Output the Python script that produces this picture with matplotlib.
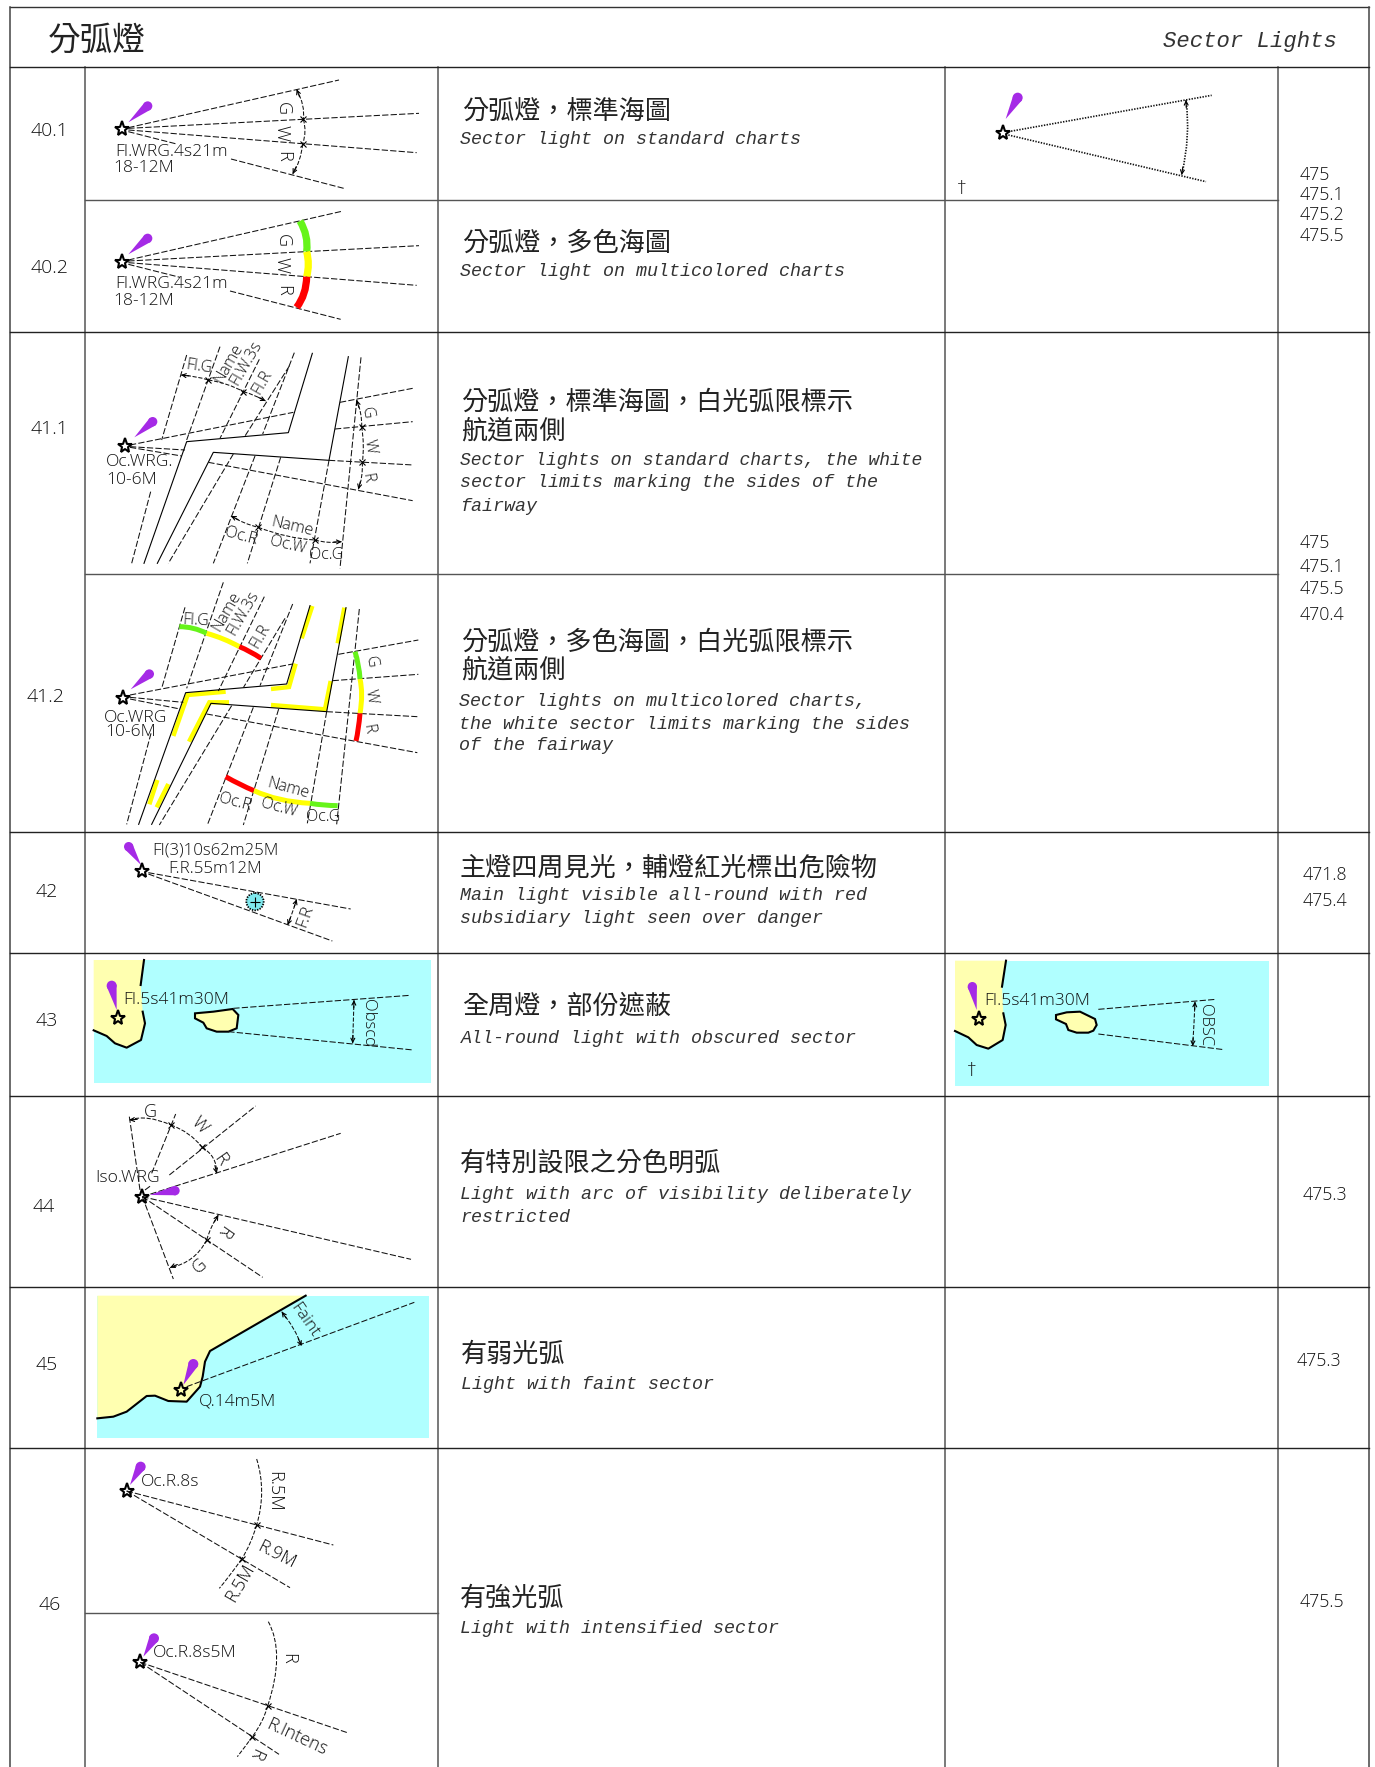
import numpy as np
import matplotlib
matplotlib.use('Agg')
import matplotlib.pyplot as plt
from matplotlib.patches import PathPatch, Polygon, Circle, Rectangle
from matplotlib.path import Path

plt.rcParams['lines.scale_dashes'] = False
plt.rcParams['font.family'] = ['Open Sans', 'DejaVu Sans']
plt.rcParams['font.weight'] = 'light'

CJK = ['Noto Sans CJK TC', 'DejaVu Sans']
MONO = 'Liberation Mono'
FLARE = '#a52ae6'
SEA = '#b0ffff'
LAND = '#ffffb0'
GREEN = '#66f41a'
YELLOW = '#ffff00'
RED = '#ff0000'

# table
col_x = [10, 85, 438, 945, 1278, 1369]
full_rows = [67, 332, 832, 953, 1096, 1287, 1448]
partial_rows = [200, 574]

row_numbers = [('40.1', 50, 131), ('40.2', 50, 268), ('41.1', 50, 429), ('41.2', 46, 697),
               ('42', 47, 892), ('43', 47, 1021), ('44', 44, 1207), ('45', 47, 1365), ('46', 50, 1605)]

zh_text = [('分弧燈，標準海圖', 462, 111), ('分弧燈，多色海圖', 462, 243),
           ('分弧燈，標準海圖，白光弧限標示', 461, 402), ('航道兩側', 461, 431),
           ('分弧燈，多色海圖，白光弧限標示', 461, 642), ('航道兩側', 461, 670),
           ('主燈四周見光，輔燈紅光標出危險物', 460, 868), ('全周燈，部份遮蔽', 462, 1006),
           ('有特別設限之分色明弧', 460, 1163), ('有弱光弧', 461, 1354), ('有強光弧', 460, 1598)]

en_text = [('Sector light on standard charts', 460, 139), ('Sector light on multicolored charts', 460, 271),
           ('Sector lights on standard charts, the white', 460, 460),
           ('sector limits marking the sides of the', 460, 482), ('fairway', 460, 506),
           ('Sector lights on multicolored charts,', 459, 701),
           ('the white sector limits marking the sides', 459, 724), ('of the fairway', 459, 745),
           ('Main light visible all-round with red', 460, 895),
           ('subsidiary light seen over danger', 460, 918),
           ('All-round light with obscured sector', 461, 1038),
           ('Light with arc of visibility deliberately', 460, 1194), ('restricted', 460, 1217),
           ('Light with faint sector', 461, 1384), ('Light with intensified sector', 460, 1628)]
en_narrow = ['Sector lights on standard charts, the white']

ref_text = [('475', 1300, 175), ('475.1', 1300, 195), ('475.2', 1300, 215), ('475.5', 1300, 236),
            ('475', 1300, 543), ('475.1', 1300, 567), ('475.5', 1300, 589), ('470.4', 1300, 615),
            ('471.8', 1303, 875), ('475.4', 1303, 901), ('475.3', 1303, 1195), ('475.3', 1297, 1361),
            ('475.5', 1300, 1602)]

# the diagrams, in units of 1/3 px from each origin
o_40 = (0, 0)
rays_401 = [[(385, 383), (1017, 240)], [(385, 385), (1257, 340)], [(385, 390), (1250, 458)],
            [(385, 395), (530, 432)], [(693, 477), (1035, 566)]]
arcs_401 = [[(890, 268), (908, 315), (910, 358)], [(910, 358), (915, 395), (908, 432)],
            [(908, 432), (898, 480), (878, 522)]]
labels_401 = [('G', 850, 325, -90), ('W', 845, 398, -90), ('R', 850, 470, -90)]
left_401 = [('FI.WRG.4s21m', 345, 455), ('18-12M', 340, 505)]

rays_402 = [[(385, 780), (1025, 634)], [(385, 783), (1257, 737)], [(385, 788), (1250, 856)],
            [(385, 793), (540, 832)], [(690, 873), (1022, 958)]]
colour_402 = [[(900, 663), (918, 708), (920, 755), GREEN], [(920, 755), (925, 793), (920, 830), YELLOW],
              [(920, 830), (912, 880), (890, 922), RED]]
labels_402 = [('G', 850, 722, -90), ('W', 845, 795, -90), ('R', 850, 870, -90)]
left_402 = [('FI.WRG.4s21m', 345, 851), ('18-12M', 340, 902)]

o_411 = (80, 330)
solid_411 = [[(192, 700), (320, 335), (625, 308), (697, 70)], [(232, 700), (400, 367), (747, 391), (805, 80)]]
rays_411 = [[(150, 345), (640, 247)], [(780, 217), (998, 175)], [(765, 297), (998, 275)],
            [(150, 350), (315, 360)], [(747, 391), (1000, 405)], [(150, 352), (305, 378)],
            [(385, 397), (998, 512)], [(320, 75), (245, 330)], [(212, 485), (155, 700)],
            [(420, 50), (320, 330)], [(538, 88), (420, 325)], [(643, 68), (548, 312)],
            [(628, 108), (495, 318)], [(460, 372), (265, 700)], [(525, 378), (400, 700)],
            [(602, 382), (502, 700)], [(843, 82), (780, 715)], [(747, 391), (690, 700)]]
arcs_411a = [[(303, 135), (345, 140), (385, 150)], [(385, 150), (440, 163), (490, 185)],
             [(490, 185), (525, 197), (557, 213)]]
arcs_411b = [[(453, 558), (492, 578), (535, 592)], [(535, 592), (620, 618), (705, 630)],
             [(705, 630), (745, 637), (785, 635)]]
arcs_411c = [[(830, 210), (842, 250), (845, 290)], [(845, 290), (850, 345), (847, 397)],
             [(847, 397), (845, 440), (835, 478)]]
labels_411 = [('FI.G', 357, 110, -8), ('Name', 445, 100, 60), ('FI.W.3s', 497, 100, 60), ('FI.R', 548, 155, 60),
              ('G', 862, 250, -80), ('W', 870, 350, -80), ('R', 860, 445, -80), ('Name', 637, 590, -13),
              ('Oc.W', 622, 645, -13), ('Oc.R', 483, 618, -15), ('Oc.G', 740, 675, 0)]
left_411 = [('Oc.WRG.', 78, 397), ('10-6M', 80, 450)]

o_412 = (80, 575)
solid_412 = [[(176, 748), (317, 353), (620, 327), (690, 92)], [(215, 748), (393, 385), (740, 410), (798, 98)]]
yellow_412 = [[(280, 483), (323, 360), (437, 350)], [(573, 342), (627, 336), (647, 266)], [(665, 190), (697, 93)],
              [(327, 500), (388, 382), (447, 382)], [(573, 390), (735, 403), (752, 318)], [(773, 205), (793, 98)],
              [(208, 688), (232, 615)], [(230, 697), (265, 627)]]
rays_412 = [[(150, 360), (638, 267)], [(775, 238), (1015, 195)], [(758, 317), (1015, 298)],
            [(150, 367), (310, 382)], [(740, 410), (1012, 425)], [(150, 372), (300, 402)],
            [(380, 417), (1012, 533)], [(315, 97), (245, 340)], [(213, 475), (140, 748)],
            [(430, 22), (320, 340)], [(553, 65), (415, 348)], [(638, 87), (540, 332)],
            [(615, 130), (490, 338)], [(455, 392), (238, 750)], [(520, 397), (382, 750)],
            [(596, 402), (490, 750)], [(838, 102), (770, 748)], [(740, 410), (682, 745)]]
colour_412 = [[(298, 155), (340, 160), (380, 175), GREEN], [(380, 175), (430, 192), (478, 215), YELLOW],
              [(478, 215), (510, 230), (543, 250), RED], [(825, 230), (835, 270), (840, 312), GREEN],
              [(840, 312), (845, 360), (840, 415), YELLOW], [(840, 415), (835, 460), (828, 498), RED],
              [(437, 605), (480, 628), (522, 647), RED], [(522, 647), (600, 673), (690, 685), YELLOW],
              [(690, 685), (730, 690), (773, 692), GREEN]]
labels_412 = [('FI.G', 348, 137, -3), ('Name', 440, 108, 60), ('FI.W.3s', 490, 115, 60), ('FI.R', 540, 182, 60),
              ('G', 873, 262, -80), ('W', 873, 365, -80), ('R', 865, 462, -80), ('Name', 625, 642, -15),
              ('Oc.W', 595, 700, -15), ('Oc.R', 465, 682, -15), ('Oc.G', 730, 725, 0)]
left_412 = [('Oc.WRG', 72, 428), ('10-6M', 75, 472)]

o_42 = (80, 830)
rays_42 = [[(205, 128), (812, 237)], [(205, 132), (757, 333)]]
arcs_42 = [[(650, 208), (638, 245), (623, 285)]]
labels_42 = [('F.R', 675, 258, 70)]
left_42 = [('FI(3)10s62m25M', 217, 60), ('F.R.55m12M', 265, 118)]

land_43 = [(41, 390), (192, 390), (182, 465), (188, 545), (195, 580), (183, 630), (140, 653), (105, 640), (80, 618), (41, 601)]
island_43 = [(345, 550), (400, 545), (458, 537), (475, 555), (470, 595), (445, 605), (410, 605), (380, 595), (370, 578), (345, 565)]
rays_43 = [[(460, 535), (990, 496)], [(445, 605), (1000, 660)]]
arcs_43 = [[(822, 510), (820, 575), (818, 640)]]

o_43r = (940, 950)
land_43r = [(45, 32), (198, 32), (186, 110), (190, 190), (197, 225), (188, 270), (145, 296), (110, 285), (85, 262), (45, 243)]
island_43r = [(348, 195), (380, 187), (420, 185), (465, 207), (470, 225), (460, 242), (445, 248), (410, 248), (385, 240), (378, 222), (348, 208)]
rays_43r = [[(475, 178), (828, 148)], [(475, 252), (852, 299)]]
arcs_43r = [[(765, 155), (762, 220), (758, 288)]]

o_44 = (80, 1090)
rays_44 = [[(148, 80), (180, 300)], [(215, 250), (287, 72)], [(195, 300), (215, 285)], [(268, 255), (527, 48)],
           [(187, 320), (782, 130)], [(187, 320), (993, 508)], [(187, 320), (548, 562)], [(187, 320), (280, 567)]]
arcs_44a = [[(148, 90), (205, 85), (273, 105)], [(273, 105), (325, 132), (367, 172)], [(367, 172), (400, 205), (410, 250)]]
arcs_44b = [[(415, 375), (395, 410), (380, 450)], [(380, 450), (335, 505), (270, 533)]]
labels_44 = [('G', 212, 65, 0), ('W', 360, 105, -45), ('R', 422, 210, -55), ('R', 430, 423, -125), ('G', 358, 527, 40)]

land_45 = [(52, 617), (677, 617), (390, 783), (375, 815), (368, 860), (360, 890), (320, 935), (265, 933),
           (225, 917), (200, 918), (140, 965), (100, 980), (52, 985)]
rays_45 = [[(320, 890), (1003, 637)]]
arcs_45 = [[(605, 665), (640, 715), (665, 768)]]

o_46 = (80, 1445)
rays_46a = [[(140, 138), (760, 300)], [(140, 138), (630, 428)]]
arcs_46a = [[(530, 42), (545, 140), (530, 240)], [(530, 240), (510, 295), (485, 342)], [(485, 342), (450, 390), (418, 430)]]
labels_46a = [('R.5M', 582, 140, -90), ('R.9M', 590, 328, -27), ('R.5M', 480, 413, 60)]
rays_46b = [[(181, 652), (802, 863)], [(181, 652), (597, 928)]]
arcs_46b = [[(565, 530), (590, 640), (563, 783)], [(563, 783), (545, 830), (517, 875)], [(517, 875), (495, 905), (472, 935)]]
labels_46b = [('R', 625, 640, -90), ('R.Intens', 650, 877, -25), ('R', 525, 928, -115)]

o_tr = (940, 60)
rays_tr = [[(205, 215), (815, 106)], [(205, 225), (798, 365)]]
arcs_tr = [[(738, 120), (742, 230), (725, 345)]]

fig = plt.figure(figsize=(13.75, 17.67), dpi=100)
ax = fig.add_axes([0, 0, 1, 1])
ax.set_xlim(0, 1375)
ax.set_ylim(1767, 0)
ax.axis('off')


def conv(o, p):
    return (o[0] + p[0] / 3, o[1] + p[1] / 3)


def draw_rays(o, rays, ls=(0, (4.5, 1.6)), lw=0.75, color='#111111'):
    for r in rays:
        pts = np.array([conv(o, p) for p in r])
        ax.plot(pts[:, 0], pts[:, 1], color=color, lw=lw, ls=ls, zorder=4)


def draw_solid(o, lines, lw=0.8):
    for r in lines:
        pts = np.array([conv(o, p) for p in r])
        ax.plot(pts[:, 0], pts[:, 1], color='black', lw=lw, zorder=4, solid_joinstyle='miter')


def curve(o, a, m, b, color='#111111', lw=0.75, ls=(0, (3, 1.2)), zorder=4):
    p0, pm, p1 = conv(o, a), conv(o, m), conv(o, b)
    ctrl = (2 * pm[0] - (p0[0] + p1[0]) / 2, 2 * pm[1] - (p0[1] + p1[1]) / 2)
    path = Path([p0, ctrl, p1], [Path.MOVETO, Path.CURVE3, Path.CURVE3])
    ax.add_patch(PathPatch(path, fc='none', ec=color, lw=lw, ls=ls, capstyle='butt', zorder=zorder))


def dim_arcs(o, arcs, ends=True, ticks=True, ls=(0, (3, 1.2)), lw=0.75):
    for a in arcs:
        curve(o, a[0], a[1], a[2], ls=ls, lw=lw)
    if ticks:
        for a in arcs[:-1]:
            x, y = conv(o, a[2])
            ax.plot(x, y, marker='x', ms=4.5, mew=0.8, color='black', zorder=5)
    if ends:
        for tip, tail in ((arcs[0][0], arcs[0][1]), (arcs[-1][2], arcs[-1][1])):
            t, h = np.array(conv(o, tip)), np.array(conv(o, tail))
            back = t + (h - t) / np.linalg.norm(h - t) * 8
            ax.annotate('', xy=t, xytext=back, zorder=5,
                        arrowprops=dict(arrowstyle='->', lw=0.8, color='black', mutation_scale=7, shrinkA=0, shrinkB=0))


def colour_arcs(o, arcs, lw=5.2):
    for a in arcs:
        curve(o, a[0], a[1], a[2], color=a[3], lw=lw, ls='-', zorder=5)


def light(o, star, base, tip, r=14):
    s, b, c = conv(o, star), np.array(conv(o, base)), np.array(conv(o, tip))
    d = (c - b) / np.linalg.norm(c - b)
    n = np.array([-d[1], d[0]]) * r / 3
    ax.add_patch(Polygon([b, c + n, c - n], fc=FLARE, ec='none', zorder=6))
    ax.add_patch(Circle(c, r / 3, fc=FLARE, ec='none', zorder=6))
    ax.plot(s[0], s[1], marker='*', ms=11, mfc='none', mec='black', mew=1.5, zorder=7)


def labels(o, items, size=11.5):
    for t, x, y, rot in items:
        px, py = conv(o, (x, y))
        ax.text(px, py, t, rotation=rot, rotation_mode='anchor', ha='center', va='center', fontsize=size, color='#111111', zorder=8)


def left_labels(o, items, size=12.6):
    for t, x, y in items:
        px, py = conv(o, (x, y))
        ax.text(px, py, t, ha='left', va='center', fontsize=size, color='#111111', zorder=8)


def land(o, pts, coast_gap=None):
    q = [conv(o, p) for p in pts]
    ax.add_patch(Polygon(q, fc=LAND, ec='none', zorder=2))
    q = np.array(q[1:])
    if coast_gap is None:
        ax.plot(q[:, 0], q[:, 1], color='black', lw=1.5, zorder=4)
    else:
        ax.plot(q[:coast_gap, 0], q[:coast_gap, 1], color='black', lw=1.5, zorder=4)
        ax.plot(q[coast_gap:, 0], q[coast_gap:, 1], color='black', lw=1.5, zorder=4)


def island(o, pts):
    ax.add_patch(Polygon([conv(o, p) for p in pts], fc=LAND, ec='black', lw=1.5, zorder=3))


def sea(o, a, b):
    p, q = conv(o, a), conv(o, b)
    ax.add_patch(Rectangle(p, q[0] - p[0], q[1] - p[1], fc=SEA, ec='none', zorder=1))


# table lines
ax.plot([col_x[0], col_x[5]], [7, 7], color='#333333', lw=1.0)
for x in [col_x[0], col_x[5]]:
    ax.plot([x, x], [7, 1767], color='#444444', lw=1.1)
for x in col_x[1:5]:
    ax.plot([x, x], [67, 1767], color='#555555', lw=1.1)
for y in full_rows:
    ax.plot([col_x[0], col_x[5]], [y, y], color='#222222', lw=1.0)
for y in partial_rows:
    ax.plot([col_x[1], col_x[4]], [y, y], color='#555555', lw=1.0)
ax.plot([col_x[1], col_x[2]], [1613, 1613], color='#555555', lw=1.0)

# text columns
ax.text(48, 41, '分弧燈', fontsize=23.5, family=CJK, ha='left', va='center', color='#222222')
ax.text(1337, 41, 'Sector Lights', fontsize=16, family=MONO, style='italic', ha='right', va='center', color='#333333')
for t, x, y in row_numbers:
    ax.text(x, y, t, fontsize=14, ha='center', va='center', color='#111111')
for t, x, y in zh_text:
    ax.text(x, y, t, fontsize=18.8, family=CJK, ha='left', va='center', color='#222222')
for t, x, y in en_text:
    size = 13 if t in en_narrow else 13.25
    ax.text(x, y, t, fontsize=size, family=MONO, style='italic', ha='left', va='center', color='#333333')
for t, x, y in ref_text:
    ax.text(x, y, t, fontsize=12.8, ha='left', va='center', color='#111111')

# 40.1, 40.2
light(o_40, (367, 388), (385, 367), (443, 318))
draw_rays(o_40, rays_401)
dim_arcs(o_40, arcs_401)
labels(o_40, labels_401, size=13)
left_labels(o_40, left_401)

light(o_40, (367, 786), (385, 763), (443, 715))
draw_rays(o_40, rays_402)
colour_arcs(o_40, colour_402)
labels(o_40, labels_402, size=13)
left_labels(o_40, left_402)

# 41.1
light(o_411, (135, 349), (163, 322), (218, 275))
draw_solid(o_411, solid_411)
draw_rays(o_411, rays_411)
dim_arcs(o_411, arcs_411a)
dim_arcs(o_411, arcs_411b)
dim_arcs(o_411, arcs_411c)
labels(o_411, labels_411)
left_labels(o_411, left_411)

# 41.2
light(o_412, (130, 368), (152, 343), (208, 297))
for seg in yellow_412:
    pts = np.array([conv(o_412, p) for p in seg])
    ax.plot(pts[:, 0], pts[:, 1], color=YELLOW, lw=3.2, zorder=3, solid_capstyle='butt', solid_joinstyle='miter')
draw_solid(o_412, solid_412)
draw_rays(o_412, rays_412)
colour_arcs(o_412, colour_412, lw=3.6)
labels(o_412, labels_412)
left_labels(o_412, left_412)

# 42
light(o_42, (186, 124), (183, 105), (146, 50))
draw_rays(o_42, rays_42)
ax.add_patch(Circle(conv(o_42, (525, 215)), 26 / 3, fc='#7fe9ee', ec='black', lw=1.3, ls=(0, (1, 0.9)), zorder=5))
cx, cy = conv(o_42, (525, 215))
ax.plot(cx, cy, marker='+', ms=7, mew=0.8, color='black', zorder=6)
dim_arcs(o_42, arcs_42, ticks=False)
labels(o_42, labels_42, size=12.5)
left_labels(o_42, left_42, size=12.2)

# 43
sea(o_42, (41, 390), (1052, 758))
land(o_42, land_43, coast_gap=2)
island(o_42, island_43)
light(o_42, (115, 565), (110, 540), (95, 467), r=15)
draw_rays(o_42, rays_43)
dim_arcs(o_42, arcs_43, ticks=False)
labels(o_42, [('Obscd', 865, 578, -90)], size=12)
left_labels(o_42, [('FI.5s41m30M', 130, 510)])

sea(o_43r, (45, 32), (987, 408))
land(o_43r, land_43r, coast_gap=2)
island(o_43r, island_43r)
light(o_43r, (118, 208), (110, 180), (97, 110))
draw_rays(o_43r, rays_43r)
dim_arcs(o_43r, arcs_43r, ticks=False)
labels(o_43r, [('OBSC', 795, 225, -90)], size=12)
left_labels(o_43r, [('FI.5s41m30M', 133, 152)])
labels(o_43r, [('†', 95, 362, 0)], size=14)

# 44
light(o_44, (187, 320), (210, 315), (285, 302))
draw_rays(o_44, rays_44)
dim_arcs(o_44, arcs_44a)
dim_arcs(o_44, arcs_44b)
labels(o_44, labels_44, size=13)
left_labels(o_44, [('Iso.WRG', 47, 263)])

# 45
sea(o_44, (52, 617), (1046, 1045))
land(o_44, land_45)
light(o_44, (304, 900), (310, 885), (340, 822), r=15)
draw_rays(o_44, rays_45)
dim_arcs(o_44, arcs_45, ticks=False)
labels(o_44, [('Faint', 672, 690, -55)], size=12.5)
left_labels(o_44, [('Q.14m5M', 357, 933)])

# 46
light(o_46, (140, 138), (150, 120), (182, 65), r=15)
draw_rays(o_46, rays_46a)
dim_arcs(o_46, arcs_46a, ends=False)
labels(o_46, labels_46a, size=13)
left_labels(o_46, [('Oc.R.8s', 182, 110)])

light(o_46, (181, 652), (190, 635), (222, 580), r=15)
draw_rays(o_46, rays_46b)
dim_arcs(o_46, arcs_46b, ends=False)
labels(o_46, labels_46b, size=13)
left_labels(o_46, [('Oc.R.8s5M', 218, 625)])

# top right example
light(o_tr, (188, 218), (197, 177), (233, 113), r=15)
draw_rays(o_tr, rays_tr, ls=(0, (1, 1)), lw=1.2)
dim_arcs(o_tr, arcs_tr, ticks=False, ls=(0, (1, 1)), lw=1.2)
labels(o_tr, [('†', 65, 387, 0)], size=14)

fig.savefig('out.png', dpi=100)
